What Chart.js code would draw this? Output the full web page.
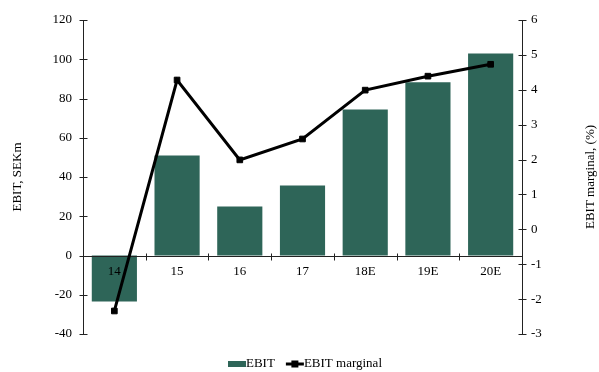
<!DOCTYPE html>
<html>
<head>
<meta charset="utf-8">
<script src="https://cdn.jsdelivr.net/npm/chart.js@4.4.1/dist/chart.umd.min.js"></script>
<style>
  html, body { margin: 0; padding: 0; background: #fff; }
  #wrap { width: 599px; height: 372px; }
</style>
</head>
<body>
<div id="wrap"><canvas id="myChart"></canvas></div>
<script>
// Years and values
const aYears = ['14', '15', '16', '17', '18E', '19E', '20E'];
const aEbit = [-23.4, 51, 25, 35.7, 74.4, 88.3, 102.9];     // SEKm
const aMargin = [-2.34, 4.28, 1.99, 2.59, 3.99, 4.39, 4.73]; // %

const barColor = '#2e6558';
const fontFamily = "'Liberation Serif', 'Times New Roman', serif";
const rightTitle = 'EBIT marginal, (%)';

// Axis lines with ticks crossing both sides, plus year labels on top of the bars
const axisLines = {
    id: 'axisLines',
    afterDatasetDraw(chart, args) {
        if (args.index !== 0) return;
        const { ctx, chartArea, scales } = chart;
        const x = scales.x, y = scales.y, y2 = scales.y2;
        const lx = Math.round(chartArea.left) + 0.5;
        const rx = Math.round(chartArea.right) + 0.5;
        const zy = Math.round(y.getPixelForValue(0)) + 0.5;
        ctx.save();
        ctx.strokeStyle = '#222';
        ctx.lineWidth = 1;
        ctx.beginPath();
        ctx.moveTo(lx, chartArea.top); ctx.lineTo(lx, chartArea.bottom);
        ctx.moveTo(rx, chartArea.top); ctx.lineTo(rx, chartArea.bottom);
        ctx.moveTo(lx, zy); ctx.lineTo(rx, zy);
        y.ticks.forEach((t, i) => {
            const py = Math.round(y.getPixelForTick(i)) + 0.5;
            ctx.moveTo(lx - 4, py); ctx.lineTo(lx + 4, py);
        });
        y2.ticks.forEach((t, i) => {
            const py = Math.round(y2.getPixelForTick(i)) + 0.5;
            ctx.moveTo(rx - 4, py); ctx.lineTo(rx + 4, py);
        });
        for (let i = 0; i < x.ticks.length - 1; i++) {
            const px = Math.round((x.getPixelForTick(i) + x.getPixelForTick(i + 1)) / 2) + 0.5;
            ctx.moveTo(px, zy - 3); ctx.lineTo(px, zy + 4);
        }
        ctx.stroke();

        // year labels just under the zero line
        ctx.fillStyle = '#000';
        ctx.font = '13px ' + fontFamily;
        ctx.textAlign = 'center';
        ctx.textBaseline = 'top';
        x.ticks.forEach((t, i) => {
            ctx.fillText(chart.data.labels[i], x.getPixelForTick(i), zy + 9);
        });

        // right axis title, reading bottom to top
        ctx.save();
        ctx.translate(591, (chartArea.top + chartArea.bottom) / 2);
        ctx.rotate(-Math.PI / 2);
        ctx.textBaseline = 'middle';
        ctx.fillText(rightTitle, 0, 0);
        ctx.restore();
        ctx.restore();
    }
};

// Legend: small bar swatch, line swatch with square marker
const bottomLegend = {
    id: 'bottomLegend',
    afterDraw(chart) {
        const { ctx } = chart;
        const ds = chart.data.datasets;
        ctx.save();
        ctx.font = '13px ' + fontFamily;
        ctx.textBaseline = 'middle';
        const cy = 364;
        const sw = 18, gap = 11;
        const w0 = ctx.measureText(ds[0].label).width;
        const w1 = ctx.measureText(ds[1].label).width;
        const total = sw + w0 + gap + sw + w1;
        let cx = 305 - total / 2;
        ctx.fillStyle = barColor;
        ctx.fillRect(cx, cy - 3, sw, 6);
        cx += sw;
        ctx.fillStyle = '#000';
        ctx.fillText(ds[0].label, cx, cy);
        cx += w0 + gap;
        ctx.strokeStyle = '#000';
        ctx.lineWidth = 3;
        ctx.beginPath();
        ctx.moveTo(cx, cy); ctx.lineTo(cx + sw, cy);
        ctx.stroke();
        ctx.fillRect(cx + sw / 2 - 3.5, cy - 3.5, 7, 7);
        cx += sw;
        ctx.fillText(ds[1].label, cx, cy);
        ctx.restore();
    }
};

const ctx = document.getElementById('myChart').getContext('2d');
const myChart = new Chart(ctx, {
    type: 'bar',
    data: {
        labels: aYears,
        datasets: [{
            type: 'bar',
            label: 'EBIT',
            data: aEbit,
            backgroundColor: barColor,
            barPercentage: 0.72,
            categoryPercentage: 1,
            yAxisID: 'y',
            order: 1
        }, {
            type: 'line',
            label: 'EBIT marginal',
            data: aMargin,
            borderColor: '#000',
            backgroundColor: '#000',
            borderWidth: 3,
            pointStyle: 'rect',
            pointRadius: 4,
            pointBorderWidth: 1,
            tension: 0,
            yAxisID: 'y2',
            order: 0
        }]
    },
    options: {
        responsive: true,
        maintainAspectRatio: false,
        animation: false,
        layout: { padding: { top: 20, bottom: 38, left: 0, right: 0 } },
        scales: {
            x: {
                position: { y: 0 },
                offset: true,
                grid: { display: false, drawTicks: false },
                border: { display: false },
                ticks: { display: false, autoSkip: false }
            },
            y: {
                position: 'left',
                min: -40,
                max: 120,
                afterFit: scale => { scale.width = 83; },
                grid: { display: false, drawTicks: false },
                border: { display: false },
                ticks: { stepSize: 20, color: '#000', padding: 11, font: { family: fontFamily, size: 13 } },
                title: {
                    display: true,
                    text: 'EBIT, SEKm',
                    color: '#000',
                    padding: { top: 10, bottom: 0 },
                    font: { family: fontFamily, size: 13 }
                }
            },
            y2: {
                position: 'right',
                min: -3,
                max: 6,
                afterFit: scale => { scale.width = 77; },
                grid: { display: false, drawTicks: false },
                border: { display: false },
                ticks: { stepSize: 1, color: '#000', padding: 9, font: { family: fontFamily, size: 13 } }
            }
        },
        plugins: {
            legend: { display: false },
            tooltip: { enabled: false }
        }
    },
    plugins: [axisLines, bottomLegend]
});
</script>
</body>
</html>
